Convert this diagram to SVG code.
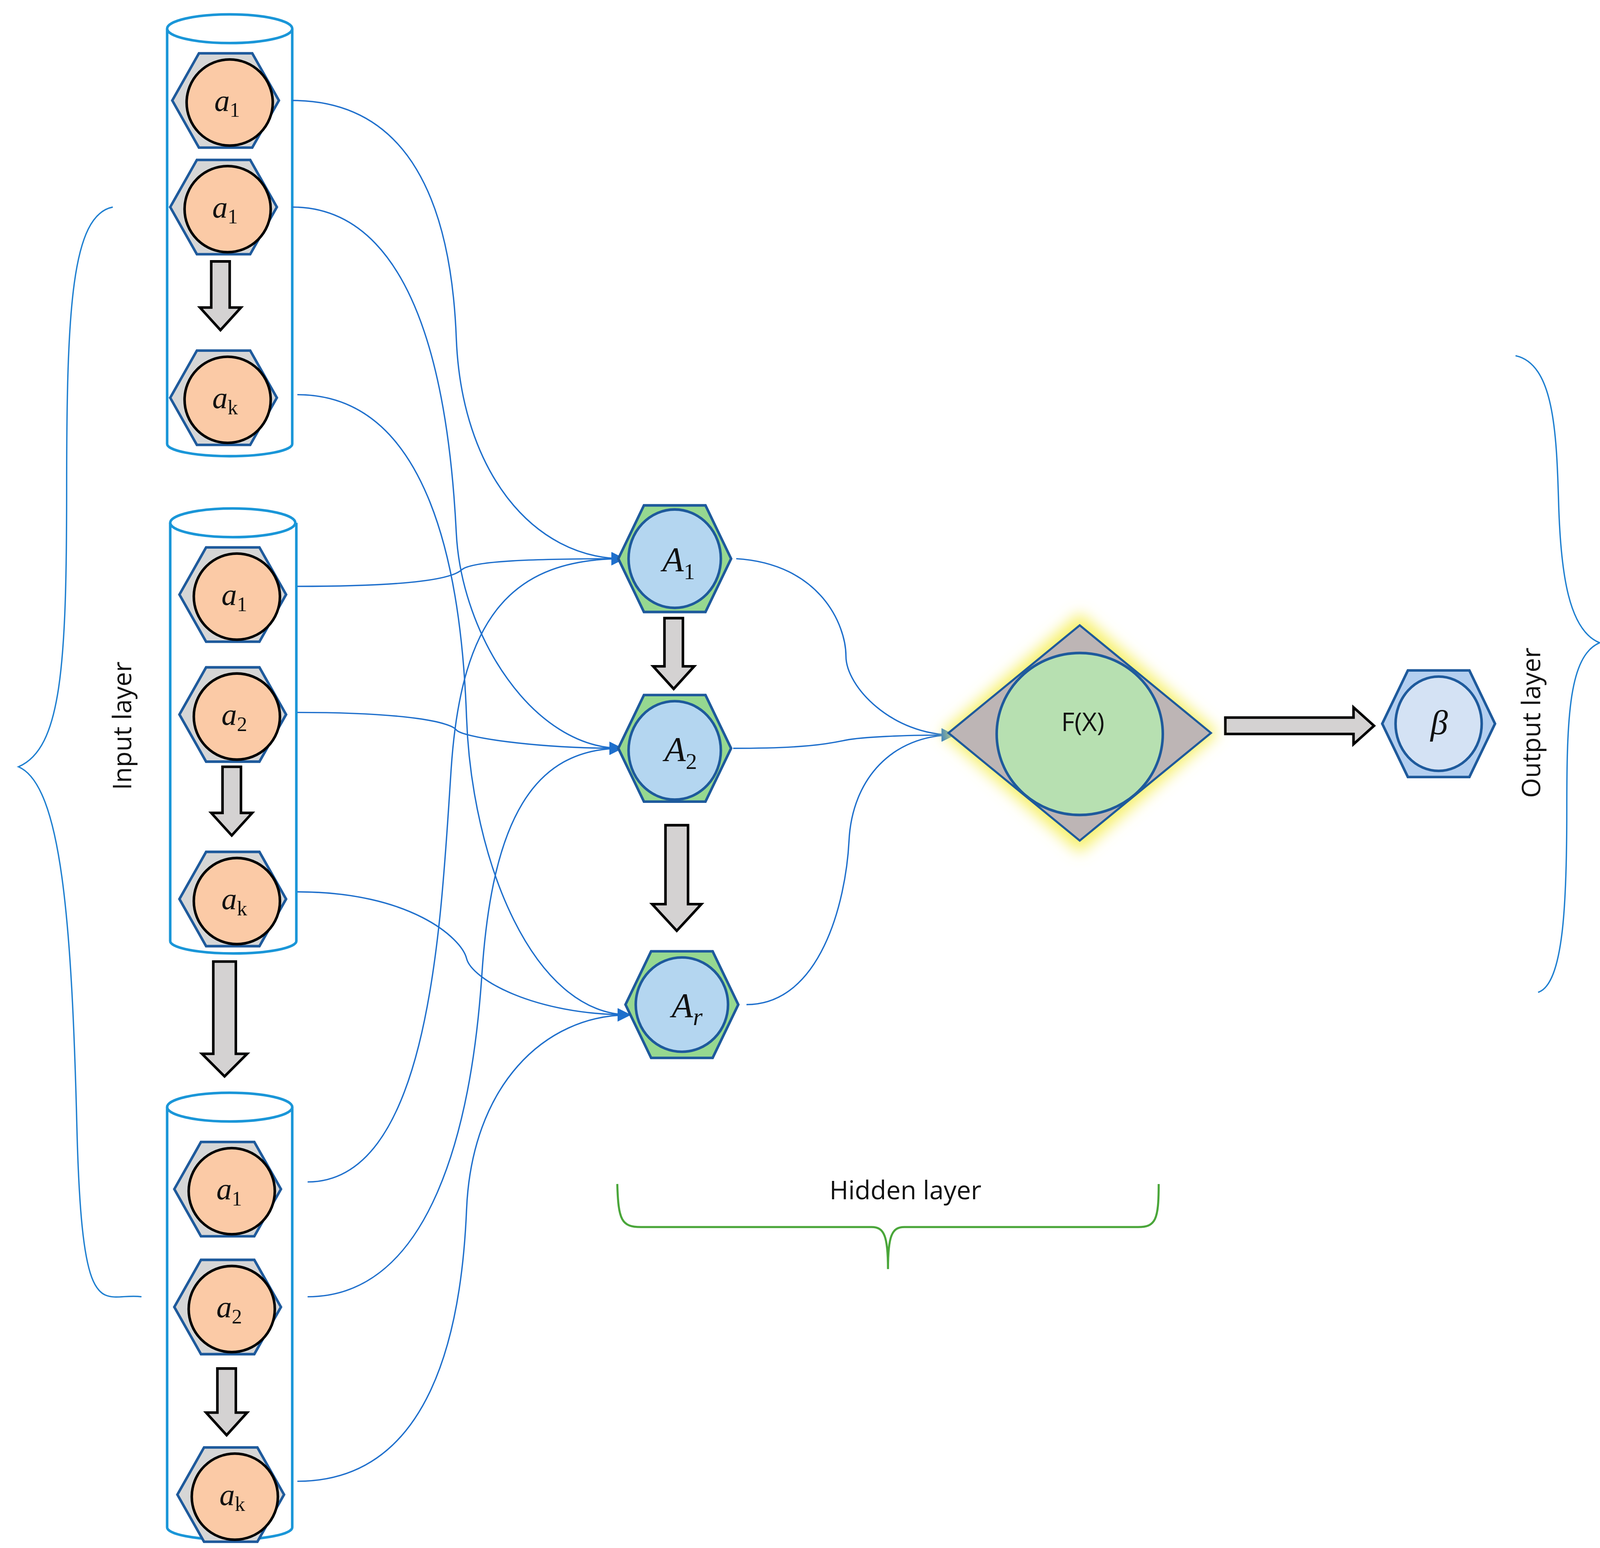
<svg xmlns="http://www.w3.org/2000/svg" width="4104" height="3964" viewBox="0 0 4104 3964">
<defs>
<style>
.cyl{fill:none;stroke:#1a96d8;stroke-width:2.5}
.hexg{fill:#d6d6d6;stroke:#1e5a9c;stroke-width:2.5}
.inc{fill:#fbcaa6;stroke:#000;stroke-width:2.5}
.hexh{fill:#96d890;stroke:#1e5a9c;stroke-width:2.5}
.hc{fill:#b4d6f0;stroke:#1e5a9c;stroke-width:2.5}
.blk{fill:#d4d2d2;stroke:#000;stroke-width:2.5}
.con{fill:none;stroke:#1e6fcc;stroke-width:1.3}
.brace{fill:none;stroke:#1e7fd0;stroke-width:1.3}
.m{font-family:"Liberation Serif",serif;font-style:italic;font-size:30px;fill:#111}
.mb{font-family:"Liberation Serif",serif;font-style:italic;font-size:34px;fill:#111}
.sub{font-style:normal}
.lab{font-family:"Open Sans","Liberation Sans",sans-serif;font-size:25px;fill:#111}
</style>
<marker id="ah" viewBox="0 0 10 10" refX="9" refY="5" markerWidth="15" markerHeight="13" orient="auto" markerUnits="userSpaceOnUse"><path d="M0,0L10,5L0,10z" fill="#1e6fcc"/></marker>
<filter id="glow" x="-20%" y="-20%" width="140%" height="140%"><feGaussianBlur stdDeviation="7"/></filter>
<polygon id="hexs" points="-52,0 -26,-46 26,-46 52,0 26,46 -26,46"/>
<polygon id="hexl" points="-55,0 -30,-52 30,-52 55,0 30,52 -30,52"/>
</defs>
<rect width="4104" height="3964" fill="#fff"/>
<g transform="scale(2.625)">
<g id="cylinders">
<path class="cyl" d="M163,28V433A61,12 0 0 0 285,433V28"/><ellipse class="cyl" cx="224" cy="28" rx="61" ry="14"/>
<path class="cyl" d="M166,510V918A61,12 0 0 0 289,918V510"/><ellipse class="cyl" cx="227" cy="510" rx="61" ry="14"/>
<path class="cyl" d="M163,1080V1490A61,12 0 0 0 285,1490V1080"/><ellipse class="cyl" cx="224" cy="1080" rx="61" ry="14"/>
</g>
<g id="connectors">
<path class="con" marker-end="url(#ah)" d="M285,98C400,98 440,200 445,330S520,545 608,545"/>
<path class="con" marker-end="url(#ah)" d="M285,202C420,202 440,420 445,520S520,730 606,730"/>
<path class="con" marker-end="url(#ah)" d="M290,385C420,385 450,560 455,700S520,990 614,990"/>
<path class="con" marker-end="url(#ah)" d="M290,572C400,572 440,565 450,556S520,545 608,545"/>
<path class="con" marker-end="url(#ah)" d="M290,695C400,695 440,705 445,712S520,730 606,730"/>
<path class="con" marker-end="url(#ah)" d="M290,870C400,870 450,915 455,935S520,990 614,990"/>
<path class="con" marker-end="url(#ah)" d="M300,1153C420,1153 430,900 440,750S500,545 608,545"/>
<path class="con" marker-end="url(#ah)" d="M300,1265C420,1265 460,1100 470,950S520,730 606,730"/>
<path class="con" marker-end="url(#ah)" d="M290,1445C420,1445 450,1300 455,1180S530,990 614,990"/>
<path class="con" marker-end="url(#ah)" d="M718,545C800,550 825,610 825,640S870,717 930,717"/>
<path class="con" marker-end="url(#ah)" d="M715,730C790,730 810,725 825,722S880,717 930,717"/>
<path class="con" marker-end="url(#ah)" d="M728,980C800,980 825,880 828,820S870,717 930,717"/>
</g>
<g id="input-nodes">
<g id="n1"><use href="#hexs" class="hexg" x="220" y="98"/><ellipse class="inc" cx="224" cy="100" rx="42" ry="42"/><text class="m" x="209" y="108">a<tspan class="sub" font-size="20" dy="6">1</tspan></text></g>
<g id="n2"><use href="#hexs" class="hexg" x="218" y="202"/><ellipse class="inc" cx="222" cy="204" rx="42" ry="42"/><text class="m" x="207" y="212">a<tspan class="sub" font-size="20" dy="6">1</tspan></text></g>
<g id="n3"><use href="#hexs" class="hexg" x="218" y="388"/><ellipse class="inc" cx="222" cy="390" rx="42" ry="42"/><text class="m" x="207" y="398">a<tspan class="sub" font-size="20" dy="6">k</tspan></text></g>
<g id="n4"><use href="#hexs" class="hexg" x="227" y="580"/><ellipse class="inc" cx="231" cy="582" rx="42" ry="42"/><text class="m" x="216" y="590">a<tspan class="sub" font-size="20" dy="6">1</tspan></text></g>
<g id="n5"><use href="#hexs" class="hexg" x="227" y="697"/><ellipse class="inc" cx="231" cy="699" rx="42" ry="42"/><text class="m" x="216" y="707">a<tspan class="sub" font-size="20" dy="6">2</tspan></text></g>
<g id="n6"><use href="#hexs" class="hexg" x="227" y="877"/><ellipse class="inc" cx="231" cy="879" rx="42" ry="42"/><text class="m" x="216" y="887">a<tspan class="sub" font-size="20" dy="6">k</tspan></text></g>
<g id="n7"><use href="#hexs" class="hexg" x="222" y="1160"/><ellipse class="inc" cx="226" cy="1162" rx="42" ry="42"/><text class="m" x="211" y="1170">a<tspan class="sub" font-size="20" dy="6">1</tspan></text></g>
<g id="n8"><use href="#hexs" class="hexg" x="222" y="1275"/><ellipse class="inc" cx="226" cy="1277" rx="42" ry="42"/><text class="m" x="211" y="1285">a<tspan class="sub" font-size="20" dy="6">2</tspan></text></g>
<g id="n9"><use href="#hexs" class="hexg" x="225" y="1458"/><ellipse class="inc" cx="229" cy="1460" rx="42" ry="42"/><text class="m" x="214" y="1468">a<tspan class="sub" font-size="20" dy="6">k</tspan></text></g>
</g>
<g id="block-arrows">
<path class="blk" d="M206,255H224V300H235L215,322L195,300H206Z"/>
<path class="blk" d="M217,748H235V793H246L226,815L206,793H217Z"/>
<path class="blk" d="M208,938H230V1028H241L219,1050L197,1028H208Z"/>
<path class="blk" d="M212,1335H230V1378H241L221,1400L201,1378H212Z"/>
<path class="blk" d="M648,603H666V650H677L657,672L637,650H648Z"/>
<path class="blk" d="M649,805H671V882H684L660,908L636,882H649Z"/>
<path class="blk" d="M1195,700H1320V690L1340,708L1320,726V716H1195Z"/>
</g>
<g id="hidden-nodes">
<g id="A1"><use href="#hexl" class="hexh" x="658" y="545"/><ellipse class="hc" cx="658" cy="545" rx="45" ry="48"/><text class="mb" x="646" y="557">A<tspan class="sub" font-size="22" dy="8">1</tspan></text></g>
<g id="A2"><use href="#hexl" class="hexh" x="658" y="730"/><ellipse class="hc" cx="658" cy="732" rx="45" ry="48"/><text class="mb" x="648" y="742">A<tspan class="sub" font-size="22" dy="8">2</tspan></text></g>
<g id="Ar"><use href="#hexl" class="hexh" x="665" y="980"/><ellipse class="hc" cx="665" cy="980" rx="45" ry="46"/><text class="mb" x="655" y="992">A<tspan font-size="24" dy="8">r</tspan></text></g>
</g>
<g id="fx">
<polygon points="918,715 1053,598 1188,715 1053,832" fill="#f6f06a" filter="url(#glow)"/>
<polygon points="925,715 1053,610 1181,715 1053,820" fill="#bdb5b5" stroke="#1e5a9c" stroke-width="2"/>
<ellipse cx="1053" cy="716" rx="81" ry="79" fill="#b7e0b1" stroke="#1e5a9c" stroke-width="2.5"/>
<text class="lab" x="1056" y="713" text-anchor="middle" font-size="27">F(X)</text>
</g>
<g id="beta"><use href="#hexl" class="hexg" x="1403" y="706" style="fill:#b4cff0"/><ellipse class="hc" cx="1403" cy="706" rx="42" ry="46" style="fill:#d4e2f4"/><text class="mb" x="1395" y="716">β</text></g>
<g id="braces">
<path class="brace" d="M110,202C70,210 65,300 65,475S60,730 18,748C60,766 70,900 75,1100S100,1260 138,1265"/>
<text class="lab" transform="translate(128,708) rotate(-90)" text-anchor="middle">Input layer</text>
<path class="brace" d="M1478,347C1515,355 1518,420 1520,490S1530,615 1560,627C1530,640 1528,700 1528,790S1525,960 1500,968"/>
<text class="lab" transform="translate(1502,705) rotate(-90)" text-anchor="middle">Output layer</text>
<path d="M602,1155C603,1190 606,1197 625,1197H850C862,1197 866,1205 866,1238C866,1205 870,1197 882,1197H1110C1127,1197 1130,1190 1130,1155" fill="none" stroke="#4aa63a" stroke-width="2"/>
<text class="lab" x="883" y="1170" text-anchor="middle">Hidden layer</text>
</g>
</g>
</svg>
